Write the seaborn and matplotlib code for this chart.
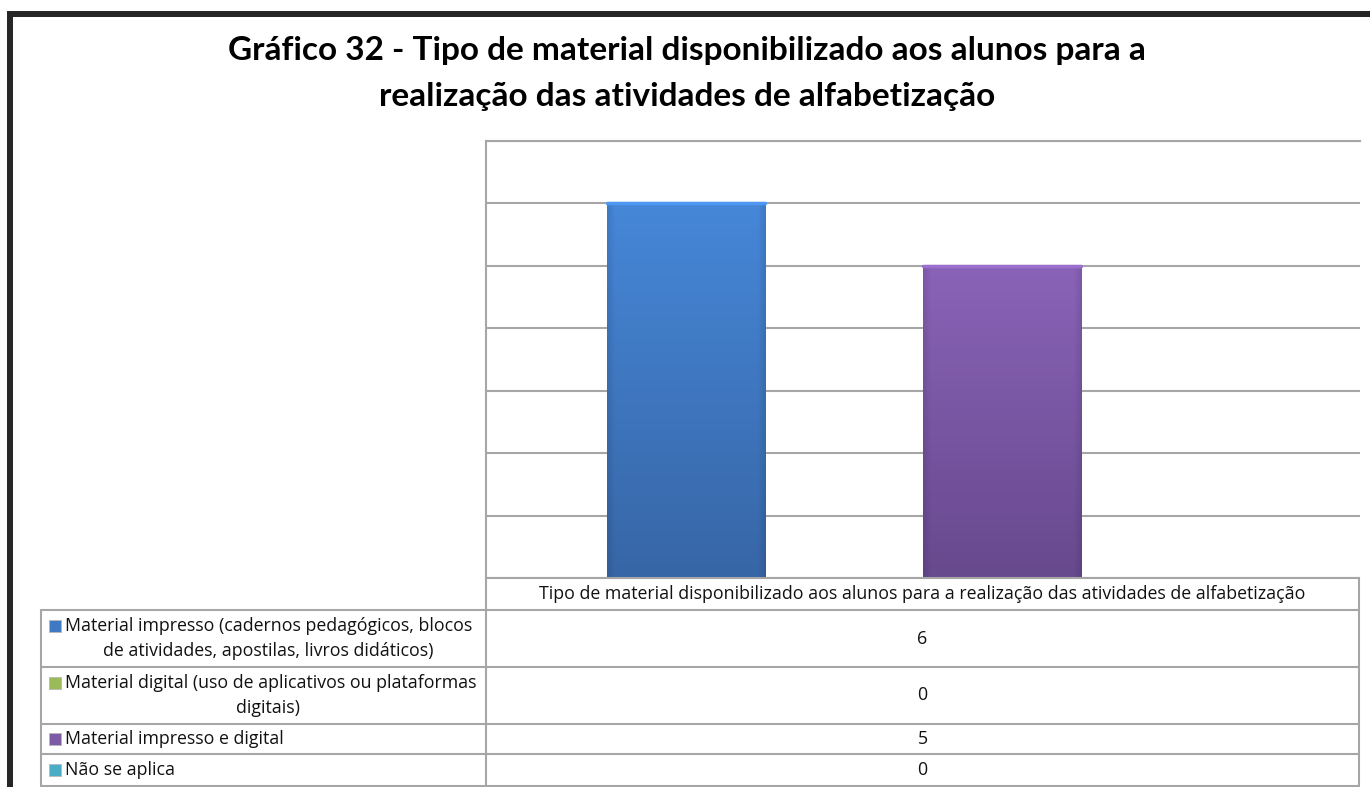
import numpy as np
import pandas as pd
import matplotlib
matplotlib.use("Agg")
import matplotlib.pyplot as plt
import seaborn as sns
from matplotlib.patches import Rectangle
from matplotlib.lines import Line2D

# data
group_label = "Tipo de material disponibilizado aos alunos para a realização das atividades de alfabetização"
series_labels = [
    "Material impresso (cadernos pedagógicos, blocos\nde atividades, apostilas, livros didáticos)",
    "Material digital (uso de aplicativos ou plataformas\ndigitais)",
    "Material impresso e digital",
    "Não se aplica",
]
series_values = [6, 0, 5, 0]
series_colors = ["#3f79c4", "#9bbb59", "#7c5aa6", "#4bacc6"]
grad_top = ["#4687d8", "#a9c964", "#8a63b8", "#56bcd6"]
grad_bottom = ["#3766a6", "#7f9b45", "#67498d", "#3a8ea6"]

title_lines = ["Gráfico 32 - Tipo de material disponibilizado aos alunos para a",
               "realização das atividades de alfabetização"]

df = pd.DataFrame({
    "grupo": [group_label] * len(series_labels),
    "serie": series_labels,
    "valor": series_values,
})

W, H = 1370, 787
fig = plt.figure(figsize=(W / 100, H / 100), dpi=100)
sns.set_style("white")
plt.rcParams["font.family"] = ["Lato", "DejaVu Sans"]
table_font = ["Open Sans", "DejaVu Sans"]


def fx(px):
    return px / W


def fy(py):
    return 1 - py / H


ax = fig.add_axes([fx(486), fy(578), fx(1360) - fx(486), fy(141) - fy(578)])
sns.barplot(data=df, x="grupo", y="valor", hue="serie", palette=series_colors,
            width=0.724, gap=0, linewidth=0, legend=False, ax=ax, zorder=3)

ax.set_xlim(-0.5, 0.5)
ax.set_ylim(0, 7)
ax.set_yticks(range(0, 8))
ax.set_yticklabels([])
ax.set_xticks([])
ax.set_xlabel("")
ax.set_ylabel("")
ax.tick_params(length=0)
ax.yaxis.grid(True, color="#a6a6a6", linewidth=1.5)
ax.set_axisbelow(True)
for side in ["right", "bottom"]:
    ax.spines[side].set_visible(False)
for side in ["left", "top"]:
    ax.spines[side].set_color("#a6a6a6")
    ax.spines[side].set_linewidth(1.5)

# gradient fill on the bars
for i, patch in enumerate(ax.patches):
    h = patch.get_height()
    if h <= 0:
        continue
    x0 = patch.get_x()
    w = patch.get_width()
    top = np.array(matplotlib.colors.to_rgb(grad_top[i]))
    bot = np.array(matplotlib.colors.to_rgb(grad_bottom[i]))
    t = np.linspace(0, 1, 200)[:, None]
    col = top + (bot - top) * t
    edge = np.linspace(-1, 1, 200)[None, :]
    shade = 1 - 0.10 * np.clip((np.abs(edge) - 0.9) / 0.1, 0, 1)
    img = col[:, None, :] * shade[..., None]
    im = ax.imshow(img, extent=[x0, x0 + w, 0, h], origin="upper",
                   aspect="auto", zorder=4)
    im.set_clip_path(patch)
    ax.add_line(Line2D([x0, x0 + w], [h, h], color=(top * 1.12).clip(0, 1),
                       linewidth=2.5, zorder=5))

ax.set_xlim(-0.5, 0.5)
ax.set_ylim(0, 7)

# title
fig.text(fx(687), fy(60), title_lines[0], ha="center", va="baseline",
         fontsize=24, fontweight="bold", color="black")
fig.text(fx(687), fy(106), title_lines[1], ha="center", va="baseline",
         fontsize=24, fontweight="bold", color="black")

# black frame
fig.add_artist(Rectangle((fx(7), fy(17)), fx(1370) - fx(7), fy(11) - fy(17),
                         facecolor="#262626", edgecolor="none"))
fig.add_artist(Rectangle((fx(7), fy(787)), fx(6), fy(11) - fy(787),
                         facecolor="#262626", edgecolor="none"))

# data table
gray = "#a6a6a6"
lw = 1.5
rows = [578, 610, 667, 724, 754, 786]
xl, xm, xr = 41, 486, 1359


def hline(y, x0, x1):
    fig.add_artist(Line2D([fx(x0), fx(x1)], [fy(y), fy(y)], color=gray, linewidth=lw))


def vline(x, y0, y1):
    fig.add_artist(Line2D([fx(x), fx(x)], [fy(y0), fy(y1)], color=gray, linewidth=lw))


hline(rows[0], xm, xr)
for y in rows[1:]:
    hline(y, xl, xr)
vline(xl, rows[1], rows[-1])
vline(xm, rows[0], rows[-1])
vline(xr, rows[0], rows[-1])

fs = 12.8
txt_color = "#111111"
fig.text(fx((xm + xr) / 2), fy((rows[0] + rows[1]) / 2), group_label,
         ha="center", va="center", fontsize=fs, color=txt_color, family=table_font)

for i, (lab, val) in enumerate(zip(series_labels, series_values)):
    y0, y1 = rows[i + 1], rows[i + 2]
    lines = lab.split("\n")
    if len(lines) == 1:
        ys = [(y0 + y1) / 2]
    else:
        ys = [(y0 + y1) / 2 - 12.5, (y0 + y1) / 2 + 12.5]
    fig.add_artist(Rectangle((fx(49), fy(ys[0] + 6)), fx(12), fy(0) - fy(12),
                             facecolor=series_colors[i], edgecolor="#b8b8b8",
                             linewidth=0.6))
    fig.text(fx(65), fy(ys[0]), lines[0], ha="left", va="center",
             fontsize=fs, color=txt_color, family=table_font)
    if len(lines) > 1:
        fig.text(fx(268), fy(ys[1]), lines[1], ha="center", va="center",
                 fontsize=fs, color=txt_color, family=table_font)
    fig.text(fx((xm + xr) / 2), fy((y0 + y1) / 2), str(val), ha="center",
             va="center", fontsize=fs, color=txt_color, family=table_font)

fig.savefig("out.png", dpi=100)
